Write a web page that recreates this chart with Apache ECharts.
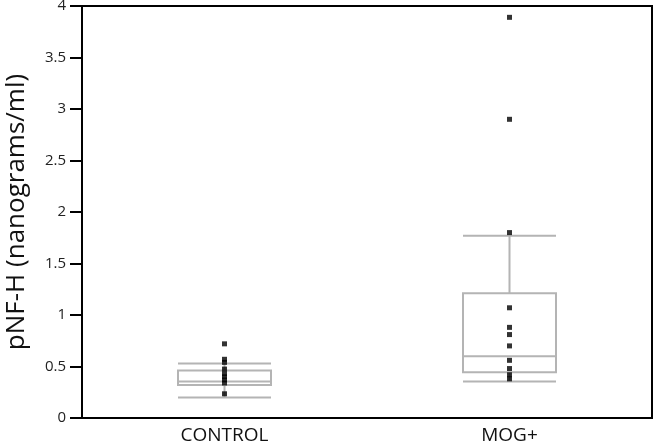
<!DOCTYPE html>
<html><head><meta charset="utf-8">
<script src="https://cdn.jsdelivr.net/npm/echarts@6/dist/echarts.min.js"></script>
<style>html,body{margin:0;padding:0;background:#fff}#c{width:654px;height:448px}</style>
</head><body><div id="c"></div>
<script>
const categories = ['CONTROL', 'MOG+'];
// [lower whisker, Q1, median, Q3, upper whisker]
const controlBox = [0.20, 0.32, 0.355, 0.46, 0.53];
const mogBox = [0.355, 0.445, 0.60, 1.21, 1.77];
const controlPoints = [0.72, 0.57, 0.54, 0.475, 0.43, 0.40, 0.37, 0.34, 0.235];
const mogPoints = [3.89, 2.90, 1.80, 1.07, 0.88, 0.81, 0.70, 0.56, 0.48, 0.42, 0.38];
const yTicks = { min: 0, max: 4, interval: 0.5 };

const scatterData = [];
controlPoints.forEach(v => scatterData.push([categories[0], v]));
mogPoints.forEach(v => scatterData.push([categories[1], v]));

const chart = echarts.init(document.getElementById('c'), null, { renderer: 'canvas' });
const font = 'Open Sans';
chart.setOption({
  animation: false,
  backgroundColor: '#fff',
  grid: { left: 82, right: 2, top: 6, bottom: 30, containLabel: false, outerBoundsMode: 'none', show: true, borderColor: '#000', borderWidth: 2, backgroundColor: 'transparent' },
  xAxis: {
    type: 'category', data: categories,
    axisLine: { lineStyle: { color: '#000', width: 2 } },
    axisTick: { show: false },
    axisLabel: { color: '#111', fontSize: 19, fontFamily: font, margin: 8 },
    splitLine: { show: false }
  },
  yAxis: {
    type: 'value', min: yTicks.min, max: yTicks.max, interval: yTicks.interval,
    name: 'pNF-H (nanograms/ml)', nameLocation: 'middle', nameGap: 52,
    nameTextStyle: { fontSize: 26, fontFamily: font, color: '#111' },
    axisLine: { show: true, lineStyle: { color: '#000', width: 2 } },
    axisTick: { show: true, length: 12, lineStyle: { color: '#000', width: 2 } },
    axisLabel: { color: '#222', fontSize: 15, fontFamily: font, margin: 16, padding: [0, 0, 8, 0] },
    splitLine: { show: false }
  },
  series: [
    {
      type: 'boxplot',
      data: [controlBox, mogBox],
      boxWidth: [93, 93],
      itemStyle: { color: 'transparent', borderColor: '#b4b4b4', borderWidth: 2 },
      z: 2
    },
    {
      type: 'scatter',
      data: scatterData,
      symbol: 'rect', symbolSize: 5,
      itemStyle: { color: '#000' },
      z: 3
    }
  ]
});
</script></body></html>
